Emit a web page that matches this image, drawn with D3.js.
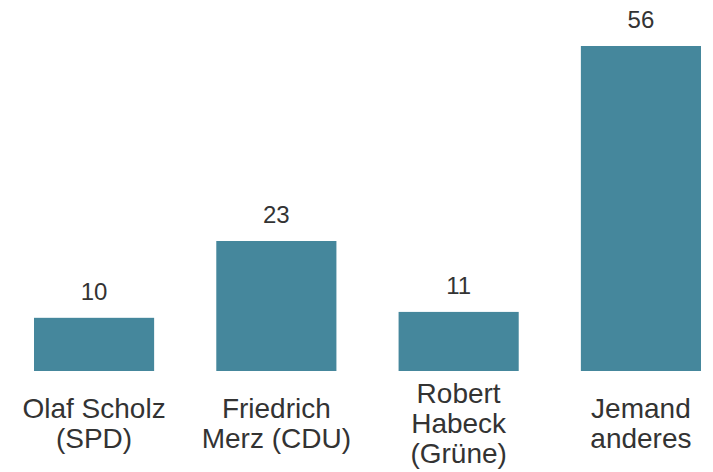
<!DOCTYPE html>
<html>
<head>
<meta charset="utf-8">
<script src="https://cdn.jsdelivr.net/npm/d3@7"></script>
<style>
  body { margin: 0; background: #fff; }
  text { font-family: "Liberation Sans", Arial, sans-serif; fill: #333; }
</style>
</head>
<body>
<svg class="chart"></svg>
<script>
// Values for the chart.
var categories = ["Olaf Scholz (SPD)", "Friedrich Merz (CDU)", "Robert Habeck (Grüne)", "Jemand anderes"];
var categoryLines = [["Olaf Scholz", "(SPD)"], ["Friedrich", "Merz (CDU)"], ["Robert", "Habeck", "(Grüne)"], ["Jemand", "anderes"]];
var values = [10, 23, 11, 56];

var width = 713;
var height = 472;

var svgElement = d3.select("svg.chart")
    .attr("width", width)
    .attr("height", height);

var xScale = d3.scaleBand() // One band per person.
    .domain(categories)
    .range([34, 701])
    .paddingInner(0.341)
    .paddingOuter(0);

var yScale = d3.scaleLinear() // Baseline sits a little above zero in the original.
    .domain([1, 56])
    .range([371, 46]);

var data = categories.map(function (c, i) {
    return { name: c, value: values[i], lines: categoryLines[i] };
});

svgElement.selectAll("rect.bar")
    .data(data)
    .enter()
    .append("rect")
        .attr("class", "bar")
        .attr("x", d => xScale(d.name))
        .attr("y", d => yScale(d.value))
        .attr("width", xScale.bandwidth())
        .attr("height", d => yScale.range()[0] - yScale(d.value))
        .attr("fill", "#45879c");

svgElement.selectAll("text.value")
    .data(data)
    .enter()
    .append("text")
        .attr("class", "value")
        .attr("x", d => xScale(d.name) + xScale.bandwidth() / 2)
        .attr("y", d => yScale(d.value) - 18)
        .attr("text-anchor", "middle")
        .style("font-size", "24px")
        .text(d => d.value);

var lineHeight = 30;
var labelBaseline = 433; // Mean baseline of the wrapped label lines.

var labels = svgElement.selectAll("text.label")
    .data(data)
    .enter()
    .append("text")
        .attr("class", "label")
        .attr("text-anchor", "middle")
        .style("font-size", "28px");

labels.selectAll("tspan")
    .data(d => d.lines.map(function (l, i) { return { text: l, i: i, n: d.lines.length, name: d.name }; }))
    .enter()
    .append("tspan")
        .attr("x", t => xScale(t.name) + xScale.bandwidth() / 2)
        .attr("y", t => labelBaseline + (t.i - (t.n - 1) / 2) * lineHeight)
        .text(t => t.text);
</script>
</body>
</html>
